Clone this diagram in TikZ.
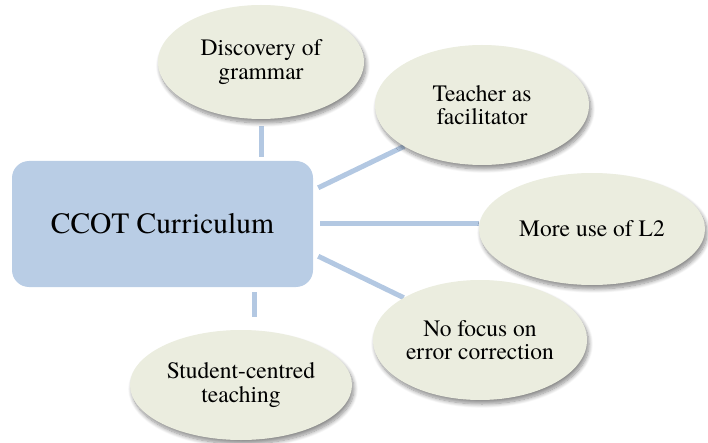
\documentclass[tikz,border=0pt]{standalone}
\usepackage{fontspec}
\setmainfont{TeX Gyre Termes}
\usetikzlibrary{shadows.blur,calc,shapes.geometric,backgrounds}
\definecolor{boxblue}{HTML}{B9CDE5}
\definecolor{linkblue}{HTML}{B3C8E2}
\definecolor{ellfill}{HTML}{EBEDDF}
\begin{document}
\begin{tikzpicture}[x=1pt,y=-1pt,
  centerbox/.style={rectangle, rounded corners=17pt, fill=boxblue,
    minimum width=301pt, minimum height=126pt, inner sep=0pt,
    font=\rmfamily\fontsize{29.5}{34}\selectfont},
  bubble/.style={ellipse, fill=ellfill, inner sep=0pt, align=center,
    font=\rmfamily\fontsize{23.5}{23.5}\selectfont,
    blur shadow={shadow xshift=2pt, shadow yshift=-4pt, shadow blur radius=4pt,
      shadow blur steps=10, shadow opacity=45}},
  conn/.style={draw=linkblue, line width=5pt}
]
\useasboundingbox (0,0) rectangle (708,443);

\node[centerbox] (box) at (162.5,224) {CCOT Curriculum};

\node[bubble, minimum width=206pt, minimum height=114pt] (disc) at (261,62) {Discovery of\\grammar};
\node[bubble, minimum width=214pt, minimum height=120pt] (teach) at (482,105) {Teacher as\\facilitator};
\node[bubble, minimum width=226pt, minimum height=112pt] (more) at (592,229) {More use of L2};
\node[bubble, minimum width=214pt, minimum height=120pt] (nofocus) at (480,340) {No focus on\\error correction};
\node[bubble, minimum width=222pt, minimum height=110pt] (student) at (241,385) {Student-centred\\teaching};

\begin{pgfonlayer}{background}
\draw[conn] ([yshift=-7pt]disc.south) -- ($(disc.south |- box.north)+(0,-4)$);
\draw[conn] ($(box.north east)+(5,27)$) -- (teach.208);
\draw[conn] ([xshift=7pt]box.east) -- (box.east -| more.west);
\draw[conn] ($(box.south east)+(5,-31)$) -- (nofocus.151);
\draw[conn] ($(student.north)+(13,-13)$) -- ($(box.south -| student.north)+(13,5)$);
\end{pgfonlayer}
\end{tikzpicture}
\end{document}
